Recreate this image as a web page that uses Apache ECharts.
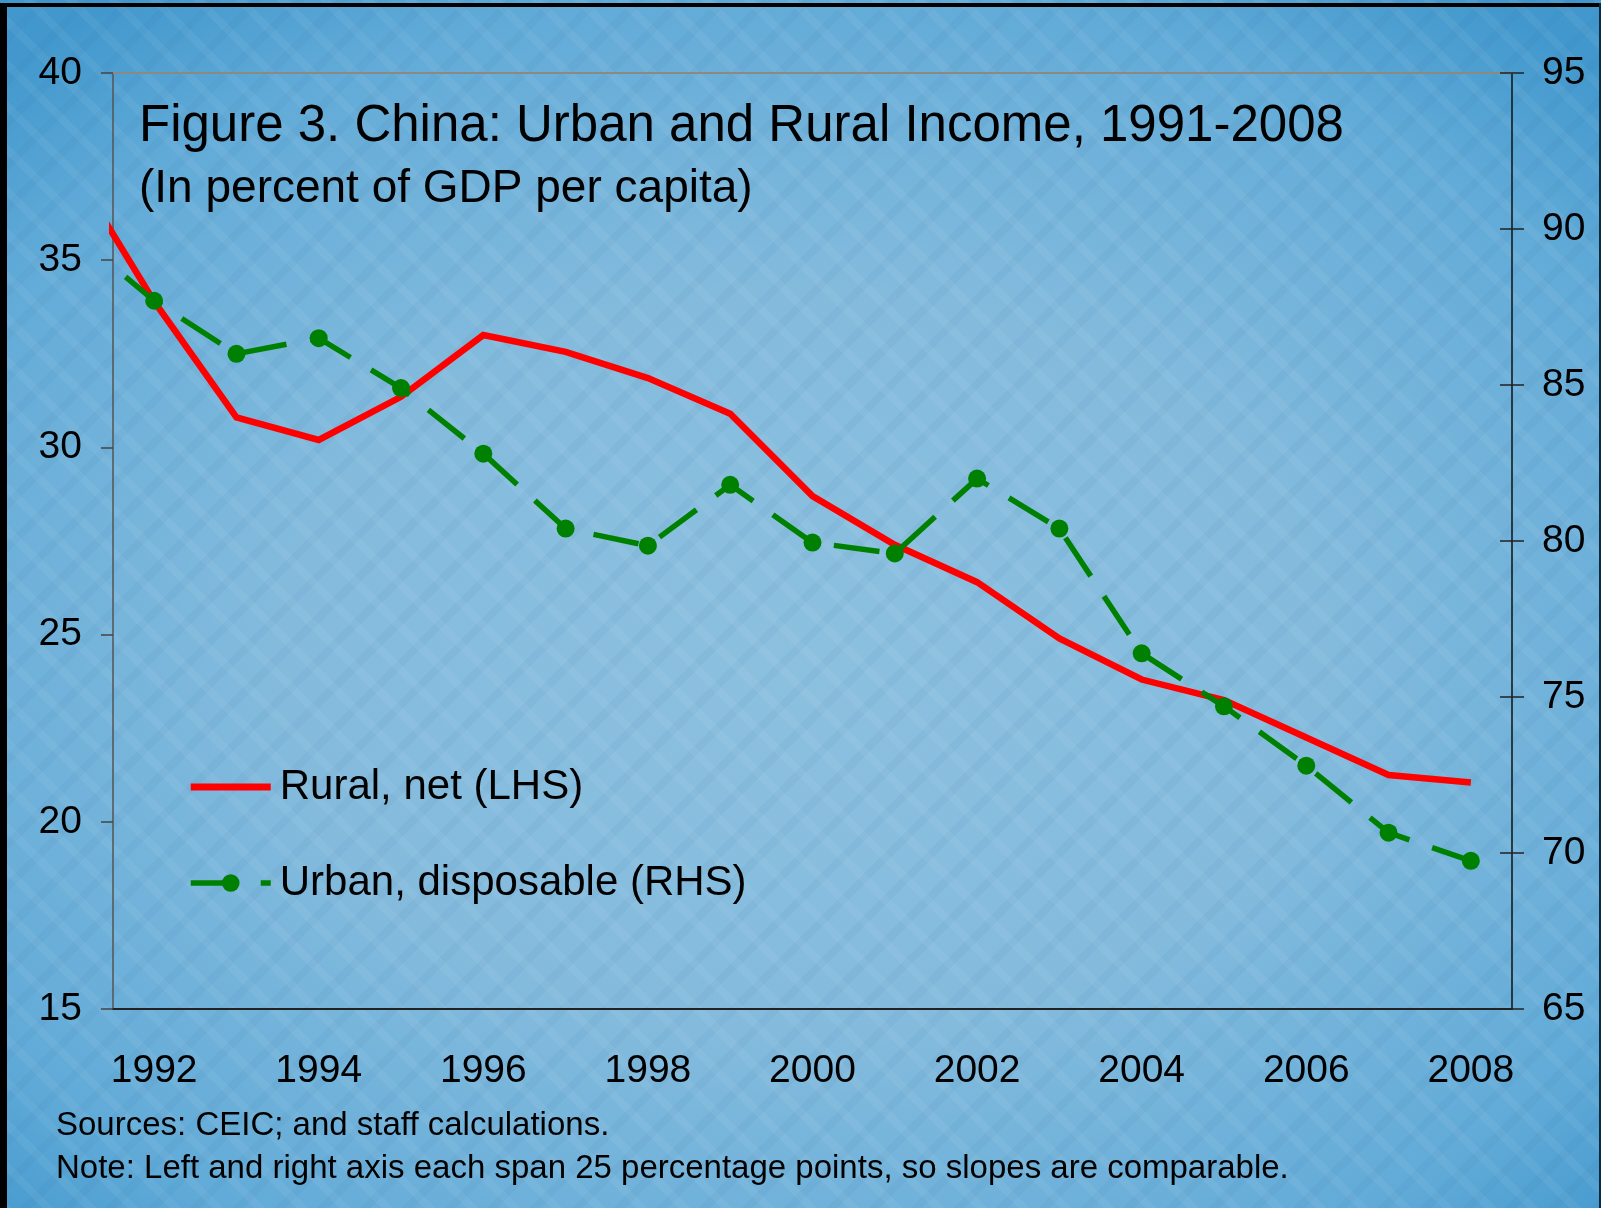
<!DOCTYPE html>
<html>
<head>
<meta charset="utf-8">
<script src="https://cdn.jsdelivr.net/npm/echarts@6/dist/echarts.min.js"></script>
<style>
html, body { margin: 0; padding: 0; }
#wrap {
  position: relative; width: 1601px; height: 1208px; overflow: hidden;
  background:
    repeating-linear-gradient(45deg, rgba(255,255,255,0.05) 0px, rgba(255,255,255,0.05) 8px, rgba(0,0,0,0) 8px, rgba(0,0,0,0) 30px),
    repeating-linear-gradient(-45deg, rgba(30,90,140,0.05) 0px, rgba(30,90,140,0.05) 8px, rgba(0,0,0,0) 8px, rgba(0,0,0,0) 30px),
    radial-gradient(ellipse 72% 68% at 50% 55%, #8cc0df 0%, #84bbdd 45%, #62abd8 82%, #4298cd 100%);
}
#main { position: absolute; left: 0; top: 0; width: 1601px; height: 1208px; }
.edge { position: absolute; background: #000; }
</style>
</head>
<body>
<div id="wrap">
  <div class="edge" style="left:0;top:3px;width:1601px;height:4px;"></div>
  <div class="edge" style="left:0;top:3px;width:7px;height:1205px;"></div>
  <div class="edge" style="left:1599px;top:3px;width:2px;height:1205px;background:#0b2a44;"></div>
  <div id="main"></div>
</div>
<script>
// years shown on the axis (label every other one)
var axisYears = ['1992','1993','1994','1995','1996','1997','1998','1999','2000',
                 '2001','2002','2003','2004','2005','2006','2007','2008'];
var years = [1991,1992,1993,1994,1995,1996,1997,1998,1999,2000,2001,2002,2003,2004,2005,2006,2007,2008];
// Rural, net (LHS), percent of GDP per capita
var rural = [37.5,33.9,30.8,30.2,31.35,33.0,32.55,31.85,30.9,28.7,27.4,26.4,24.9,23.8,23.25,22.25,21.25,21.05];
// Urban, disposable (RHS)
var urban = [89.9,87.7,86.0,86.5,84.9,82.8,80.4,79.85,81.8,79.95,79.6,82.0,80.4,76.4,74.7,72.8,70.65,69.75];

var FONT = '"Liberation Sans", Arial, sans-serif';

function pairs(vals) {
  var out = [];
  for (var i = 0; i < years.length; i++) out.push([years[i], vals[i]]);
  return out;
}

var chart = echarts.init(document.getElementById('main'));
var option = {
  backgroundColor: 'transparent',
  animation: false,
  title: [
    {text: 'Figure 3. China: Urban and Rural Income, 1991-2008', left: 139, top: 101, padding: 0,
     textStyle: {fontFamily: FONT, fontSize: 51, lineHeight: 51, fontWeight: 'normal', color: '#000'}},
    {text: '(In percent of GDP per capita)', left: 139, top: 166, padding: 0,
     textStyle: {fontFamily: FONT, fontSize: 46, lineHeight: 46, fontWeight: 'normal', color: '#000'}},
    {text: 'Sources: CEIC; and staff calculations.', left: 56, top: 1109, padding: 0,
     textStyle: {fontFamily: FONT, fontSize: 33, lineHeight: 33, fontWeight: 'normal', color: '#000'}},
    {text: 'Note: Left and right axis each span 25 percentage points, so slopes are comparable.', left: 56, top: 1152, padding: 0,
     textStyle: {fontFamily: FONT, fontSize: 33, lineHeight: 33, fontWeight: 'normal', color: '#000'}}
  ],
  legend: {
    orient: 'vertical', left: 188, top: 762, padding: 0,
    itemWidth: 80, itemHeight: 22, itemGap: 46,
    textStyle: {fontFamily: FONT, fontSize: 42, lineHeight: 50, color: '#000', padding: [0, 0, 0, 4]},
    data: [
      {name: 'Rural, net (LHS)', icon: 'path://M0,0 L80,0 L80,7 L0,7 Z'},
      {name: 'Urban, disposable (RHS)', lineStyle: {width: 5.5}}
    ]
  },
  grid: {left: 113, right: 89, top: 73, bottom: 199},
  xAxis: [
    {
      type: 'category', data: axisYears, position: 'bottom', boundaryGap: true,
      axisLine: {lineStyle: {color: '#222', width: 2}},
      axisTick: {interval: 1, length: 13, lineStyle: {color: '#333', width: 1.5}},
      axisLabel: {interval: 1, margin: 43, fontFamily: FONT, fontSize: 39, color: '#000'},
      splitLine: {show: false}
    },
    {
      type: 'value', position: 'top', min: 1991.5, max: 2008.5,
      axisLine: {show: true, lineStyle: {color: '#8c8a80', width: 2}},
      axisTick: {show: false}, axisLabel: {show: false}, splitLine: {show: false}
    }
  ],
  yAxis: [
    {
      type: 'value', position: 'left', min: 15, max: 40, interval: 5,
      axisLine: {show: true, lineStyle: {color: '#555', width: 1.5}},
      axisTick: {show: true, length: 12, lineStyle: {color: '#444', width: 1.5}},
      axisLabel: {margin: 31, fontFamily: FONT, fontSize: 39, color: '#000'},
      splitLine: {show: false}
    },
    {
      type: 'value', position: 'right', min: 65, max: 95, interval: 5,
      axisLine: {show: true, lineStyle: {color: '#111', width: 1.5}},
      axisTick: {show: true, length: 12, lineStyle: {color: '#222', width: 1.5}},
      axisLabel: {margin: 30, fontFamily: FONT, fontSize: 39, color: '#000'},
      splitLine: {show: false}
    },
    {
      // inner half of the right-hand ticks
      type: 'value', position: 'right', min: 65, max: 95, interval: 5,
      axisLine: {show: false},
      axisTick: {show: true, inside: true, length: 12, lineStyle: {color: '#222', width: 1.5}},
      axisLabel: {show: false}, splitLine: {show: false}
    }
  ],
  series: [
    {
      name: 'Rural, net (LHS)', type: 'line', xAxisIndex: 1, yAxisIndex: 0,
      data: pairs(rural), symbol: 'none', clip: true,
      lineStyle: {color: '#ff0000', width: 6.5, join: 'miter'},
      itemStyle: {color: '#ff0000'}
    },
    {
      name: 'Urban, disposable (RHS)', type: 'line', xAxisIndex: 1, yAxisIndex: 1,
      data: pairs(urban), symbol: 'circle', symbolSize: 18, showSymbol: true, clip: true,
      lineStyle: {color: '#008000', width: 5.5, type: [46, 24]},
      itemStyle: {color: '#008000'}
    }
  ]
};
chart.setOption(option);
</script>
</body>
</html>
